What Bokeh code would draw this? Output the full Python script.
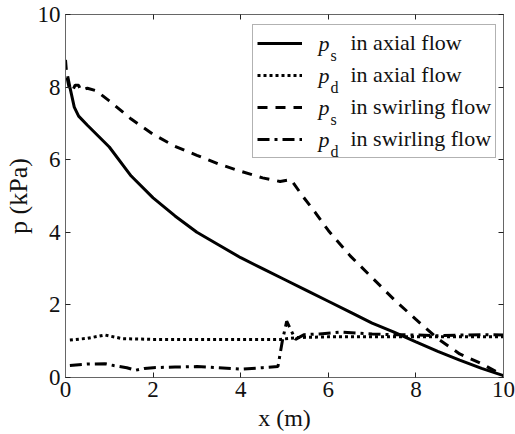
from bokeh.plotting import figure
from bokeh.models import (Legend, LegendItem, LinearAxis, FixedTicker, Range1d)
from bokeh.core.properties import value
from bokeh.embed import file_html
from bokeh.resources import INLINE

# ---- data ----
ps_axial_x = [0.05, 0.1, 0.2, 0.3, 0.5, 1.0, 1.5, 2.0, 2.5, 3.0, 3.5, 4.0, 4.5, 5.0,
              5.5, 6.0, 6.5, 7.0, 7.5, 8.0, 8.5, 9.0, 9.5, 10.0]
ps_axial_y = [8.3, 8.0, 7.45, 7.2, 6.95, 6.35, 5.55, 4.95, 4.45, 4.0, 3.65, 3.3, 3.0, 2.7,
              2.4, 2.1, 1.8, 1.5, 1.25, 0.98, 0.72, 0.48, 0.25, 0.05]

pd_axial_x = [0.1, 0.5, 0.9, 1.3, 2.0, 3.0, 4.0, 4.9, 5.3, 6.0, 7.0, 8.0, 9.0, 10.0]
pd_axial_y = [1.03, 1.08, 1.17, 1.07, 1.05, 1.05, 1.05, 1.05, 1.1, 1.12, 1.12, 1.12, 1.12, 1.12]

ps_swirl_x = [0.0, 0.03, 0.08, 0.15, 0.22, 0.3, 0.35, 0.5, 0.7, 1.0, 1.5, 2.0, 2.5, 3.0,
              3.5, 4.0, 4.5, 4.9, 5.15, 5.4, 5.7, 6.0, 6.5, 7.0, 7.5, 8.0, 8.5, 9.0, 9.5, 10.0]
ps_swirl_y = [8.75, 8.3, 8.0, 7.88, 8.05, 8.05, 7.9, 7.97, 7.9, 7.62, 7.12, 6.7, 6.37, 6.12,
              5.88, 5.68, 5.5, 5.4, 5.45, 5.02, 4.55, 4.05, 3.35, 2.75, 2.15, 1.6, 1.07, 0.65, 0.38, 0.05]

pd_swirl_x = [0.1, 0.5, 0.9, 1.1, 1.4, 1.6, 1.8, 2.0, 2.5, 3.0, 3.5, 4.0, 4.5, 4.85, 4.95,
              5.05, 5.15, 5.25, 5.45, 5.8, 6.3, 7.0, 7.5, 8.0, 8.5, 9.0, 9.5, 10.0]
pd_swirl_y = [0.33, 0.37, 0.38, 0.33, 0.27, 0.2, 0.25, 0.27, 0.29, 0.3, 0.27, 0.23, 0.27, 0.3, 1.0,
              1.55, 1.3, 1.05, 1.18, 1.2, 1.25, 1.2, 1.18, 1.17, 1.15, 1.17, 1.18, 1.17]

ticks = [0, 2, 4, 6, 8, 10]
series_subs = ["s", "d", "s", "d"]
series_rest = [" in axial flow", " in axial flow", " in swirling flow", " in swirling flow"]
x_title = "x (m)"
y_title = "p (kPa)"

FONT = "Liberation Serif"
AXC = "#666666"
TXT = "#111111"

p = figure(width=515, height=434, output_backend="svg", toolbar_location=None,
           x_range=Range1d(0, 10), y_range=Range1d(0, 10),
           min_border_left=65, min_border_right=12, min_border_top=14, min_border_bottom=57,
           background_fill_color="white", border_fill_color="white")
p.xgrid.visible = False
p.ygrid.visible = False
p.outline_line_color = AXC

def style_axis(ax, labels=True, standoff=5, title_size="24px", title_standoff=0):
    ax.ticker = FixedTicker(ticks=ticks)
    ax.minor_tick_line_color = None
    ax.major_tick_in = 5
    ax.major_tick_out = 0
    ax.axis_line_color = AXC
    ax.major_tick_line_color = "#222222"
    ax.major_label_text_font = FONT
    ax.major_label_text_color = TXT
    ax.major_label_standoff = standoff
    ax.major_label_text_font_size = "23px"
    ax.axis_label_text_font = FONT
    ax.axis_label_text_font_size = title_size
    ax.axis_label_text_font_style = "normal"
    ax.axis_label_text_color = TXT
    ax.axis_label_standoff = title_standoff
    if not labels:
        ax.major_label_text_alpha = 0
        ax.major_label_text_font_size = "1px"
        ax.major_label_standoff = 0

style_axis(p.xaxis[0], True, 4, "24px", 5)
style_axis(p.yaxis[0], True, 5, "26px", 2)
p.xaxis[0].axis_label = x_title
p.yaxis[0].axis_label = y_title
top = LinearAxis()
right = LinearAxis()
style_axis(top, False)
style_axis(right, False)
p.add_layout(top, "above")
p.add_layout(right, "right")

r1 = p.line(ps_axial_x, ps_axial_y, line_color="black", line_width=3)
r2 = p.line(pd_axial_x, pd_axial_y, line_color="black", line_width=3, line_dash="3 3")
r3 = p.line(ps_swirl_x, ps_swirl_y, line_color="black", line_width=3, line_dash="10 8")
r4 = p.line(pd_swirl_x, pd_swirl_y, line_color="black", line_width=3, line_dash="12 5 3 5")

legend = Legend(items=[LegendItem(label=t, renderers=[r]) for t, r in zip(series_rest, [r1, r2, r3, r4])],
                location=(187, 219))
legend.label_text_font = FONT
legend.label_text_font_size = "22px"
legend.label_text_color = TXT
legend.glyph_width = 45
legend.glyph_height = 28
legend.label_height = 28
legend.label_standoff = 43
legend.spacing = 4
legend.padding = 4
legend.margin = 0
legend.border_line_color = AXC
legend.border_line_width = 1
legend.background_fill_alpha = 0
p.add_layout(legend, "center")

# legend "p" with subscripts; positions (layout) converted to data units
def px2x(px):
    return (px - 65) / 43.8

def py2y(py):
    return (377 - py) / 36.3

row_py = [43, 75, 107, 139]
p.text(x=[px2x(318)] * 4, y=[py2y(v) for v in row_py], text=["p"] * 4,
       text_font=value(FONT), text_font_style="italic", text_font_size="22px",
       text_baseline="middle", text_align="left", text_color=TXT)
p.text(x=[px2x(330)] * 4, y=[py2y(v + 12) for v in row_py], text=series_subs,
       text_font=value(FONT), text_font_size="16px",
       text_baseline="middle", text_align="left", text_color=TXT)

open("out.html", "w").write(file_html(p, INLINE))
